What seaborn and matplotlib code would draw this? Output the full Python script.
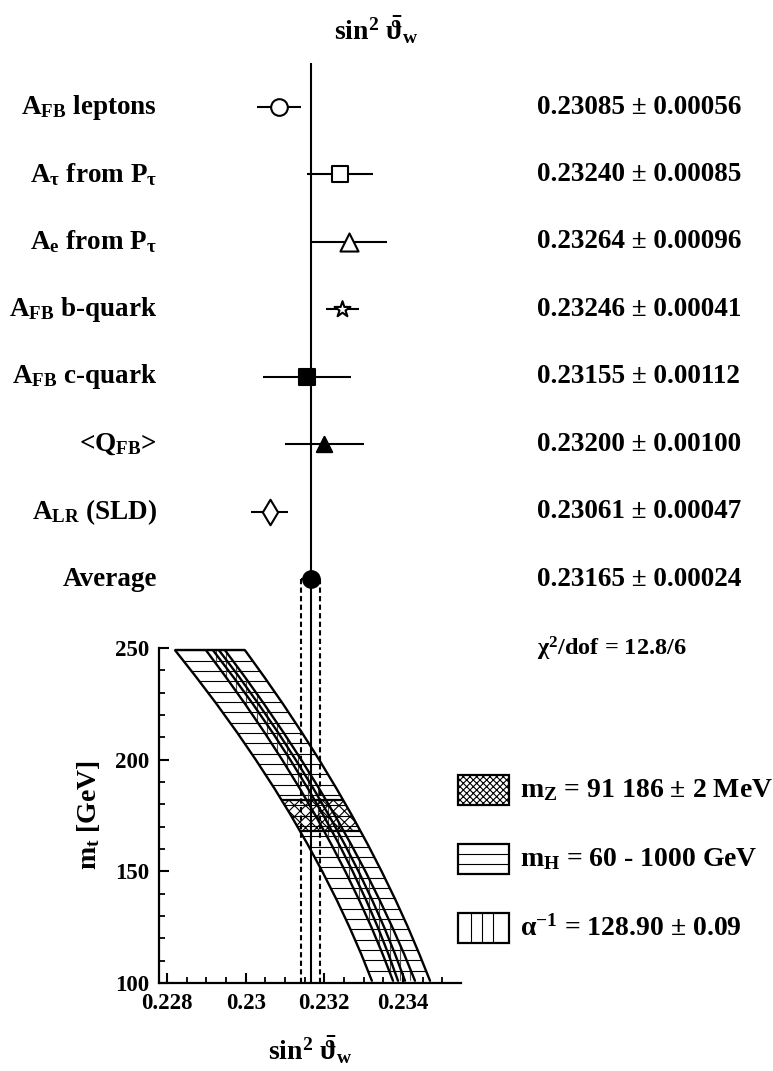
import numpy as np
import pandas as pd
import matplotlib
matplotlib.use("Agg")
import matplotlib.pyplot as plt
import seaborn as sns
from matplotlib.patches import Polygon, Rectangle
from matplotlib.ticker import MultipleLocator, FixedLocator, FixedFormatter
from matplotlib.transforms import blended_transform_factory

# ---------------- data: measurements (top panel) ----------------
labels = [r"$A_{FB}$ leptons", r"$A_\tau$ from $P_\tau$", r"$A_e$ from $P_\tau$",
          r"$A_{FB}$ b-quark", r"$A_{FB}$ c-quark", r"<$Q_{FB}$>",
          r"$A_{LR}$ (SLD)", "Average"]
values = [0.23085, 0.23240, 0.23264, 0.23246, 0.23155, 0.23200, 0.23061, 0.23165]
errors = [0.00056, 0.00085, 0.00096, 0.00041, 0.00112, 0.00100, 0.00047, 0.00024]
markers = ["o", "s", "^", "*", "s", "^", "d", "o"]
filled = [False, False, False, False, True, True, False, True]
marker_sizes = [12, 12, 13, 12, 11, 11, 13, 12]
chi2_text = r"$\chi^2$/dof = 12.8/6"
title_text = r"$sin^2\ \bar{\vartheta}_w$"

# ---------------- data: m_t vs sin^2 bands (bottom panel) ----------------
mt_points = [249, 237, 225, 212, 200, 187, 175, 162, 150, 137, 125, 113, 101]
mh_band_left = [0.228206, 0.228742, 0.229258, 0.229790, 0.230256, 0.230736, 0.231153,
                0.231578, 0.231947, 0.232320, 0.232640, 0.232937, 0.233209]
mh_band_right = [0.229983, 0.230474, 0.230947, 0.231435, 0.231867, 0.232312, 0.232703,
                 0.233105, 0.233456, 0.233815, 0.234125, 0.234414, 0.234687]
alpha_band_left = [0.228992, 0.229497, 0.229983, 0.230485, 0.230926, 0.231379, 0.231776,
                   0.232180, 0.232533, 0.232889, 0.233197, 0.233481, 0.233746]
alpha_band_right = [0.229475, 0.229981, 0.230466, 0.230968, 0.231412, 0.231870, 0.232271,
                    0.232683, 0.233044, 0.233410, 0.233728, 0.234028, 0.234305]
central_line_a = [0.229170, 0.229687, 0.230181, 0.230689, 0.231132, 0.231585, 0.231979,
                  0.232378, 0.232721, 0.233066, 0.233359, 0.233628, 0.233873]
central_line_b = [0.229322, 0.229836, 0.230324, 0.230830, 0.231270, 0.231725, 0.232119,
                  0.232520, 0.232869, 0.233220, 0.233520, 0.233797, 0.234051]
mz_band_mt = [182, 168]
mz_band_left = [0.230911, 0.231384]
mz_band_right = [0.232477, 0.232922]

xtick_values = [0.228, 0.230, 0.232, 0.234]
xtick_labels = ["0.228", "0.23", "0.232", "0.234"]
ytick_values = [100, 150, 200, 250]
xlim = (0.227797, 0.235467)
ylim = (100, 250)
xlabel_text = r"$sin^2\ \bar{\vartheta}_w$"
ylabel_text = r"$m_t$ [GeV]"
legend_labels = [r"$m_Z$ = 91 186 ± 2 MeV", r"$m_H$ = 60 - 1000 GeV",
                 r"$\alpha^{-1}$ = 128.90 ± 0.09"]

# ---------------- style ----------------
sns.set_theme(style="white")
plt.rcParams["font.family"] = ["Liberation Serif", "DejaVu Serif"]
plt.rcParams["font.weight"] = "bold"
plt.rcParams["mathtext.fontset"] = "custom"
plt.rcParams["mathtext.rm"] = "Liberation Serif:bold"
plt.rcParams["mathtext.bf"] = "Liberation Serif:bold"
plt.rcParams["mathtext.it"] = "Liberation Serif:italic:bold"
plt.rcParams["mathtext.default"] = "bf"
plt.rcParams["hatch.linewidth"] = 0.8
plt.rcParams["hatch.color"] = "black"
for key in ("text.color", "axes.labelcolor", "xtick.color", "ytick.color", "axes.edgecolor"):
    plt.rcParams[key] = "black"

W, H = 773, 1071
fig = plt.figure(figsize=(W / 100, H / 100), dpi=100)
fig.patch.set_facecolor("white")

left_px, right_px = 159, 460.7
bot_top_px, bot_bot_px = 648, 983
top_top_px = 63
ax_bot = fig.add_axes([left_px / W, 1 - bot_bot_px / H, (right_px - left_px) / W,
                       (bot_bot_px - bot_top_px) / H])
ax_top = fig.add_axes([left_px / W, 1 - bot_top_px / H, (right_px - left_px) / W,
                       (bot_top_px - top_top_px) / H])
for a in (ax_top, ax_bot):
    a.set_facecolor("none")

avg, avg_err = values[-1], errors[-1]
rows = np.arange(len(values))
dash = (0, (2.5, 1.6))

# ---------------- top panel ----------------
ax_top.axvline(avg, color="black", lw=1.5, zorder=1)
ax_top.vlines([avg - avg_err, avg + avg_err], rows[-1], len(values) + 0.02,
              colors="black", lw=1.5, linestyles=dash, zorder=1)
ax_top.hlines(rows, np.array(values) - np.array(errors), np.array(values) + np.array(errors),
              colors="black", lw=1.5, zorder=2)
for i in range(len(values)):
    sns.scatterplot(x=[values[i]], y=[rows[i]], marker=markers[i], s=marker_sizes[i] ** 2,
                    facecolor="black" if filled[i] else "white", edgecolor="black",
                    linewidth=1.5, ax=ax_top, zorder=3, legend=False)
ax_top.set_xlim(*xlim)
ax_top.set_ylim(len(values) + 0.02, -0.653)
ax_top.axis("off")

tr_lab = blended_transform_factory(fig.transFigure, ax_top.transData)
for i in range(len(values)):
    ax_top.text(157 / W, rows[i], labels[i], transform=tr_lab, ha="right", va="center",
                fontsize=19.5, fontweight="bold", color="black")
    ax_top.text(537 / W, rows[i], f"{values[i]:.5f} ± {errors[i]:.5f}", transform=tr_lab,
                ha="left", va="center", fontsize=19.5, fontweight="bold", color="black")
ax_top.text(537 / W, len(values) + 0.03, chi2_text, transform=tr_lab, ha="left", va="center",
            fontsize=17.5, fontweight="bold", color="black")

# ---------------- bottom panel ----------------
ax_bot.set_xlim(*xlim)
ax_bot.set_ylim(*ylim)
mt = np.array(mt_points, dtype=float)

# m_H band polygon + horizontal hatch
mh_poly = Polygon(np.column_stack([np.r_[mh_band_left, mh_band_right[::-1]],
                                   np.r_[mt, mt[::-1]]]),
                  closed=True, facecolor="none", edgecolor="none")
ax_bot.add_patch(mh_poly)
hatch_mt = np.arange(mt_points[0], mt_points[-1], -4.63)
hl = ax_bot.hlines(hatch_mt, xlim[0], xlim[1], colors="black", lw=0.8, zorder=1)
hl.set_clip_path(mh_poly)

# alpha band polygon + vertical hatch
al_poly = Polygon(np.column_stack([np.r_[alpha_band_left, alpha_band_right[::-1]],
                                   np.r_[mt, mt[::-1]]]),
                  closed=True, facecolor="none", edgecolor="none")
ax_bot.add_patch(al_poly)
vl = ax_bot.vlines(np.arange(0.2282, 0.2350, 0.00026), ylim[0], ylim[1], colors="0.3",
                   lw=0.8, zorder=1)
vl.set_clip_path(al_poly)

# m_Z cross-hatched region
ax_bot.fill_betweenx(mz_band_mt, mz_band_left, mz_band_right, facecolor="none",
                     hatch="xxx", edgecolor="black", linewidth=0, zorder=1)
ax_bot.hlines(mz_band_mt, mz_band_left, mz_band_right, colors="black", lw=1.6, zorder=2)

# band boundary curves
curves = {"mh_left": mh_band_left, "mh_right": mh_band_right,
          "alpha_left": alpha_band_left, "alpha_right": alpha_band_right,
          "central_a": central_line_a, "central_b": central_line_b}
df = pd.concat([pd.DataFrame({"curve": k, "mt": mt_points, "x": v}) for k, v in curves.items()])
sns.lineplot(data=df, x="x", y="mt", units="curve", estimator=None, sort=False,
             color="black", lw=1.7, ax=ax_bot, legend=False, zorder=3)
ax_bot.hlines(mt_points[0], mh_band_left[0], mh_band_right[0], colors="black", lw=1.7, zorder=3)

# average lines
ax_bot.axvline(avg, color="black", lw=1.5, zorder=4)
for xv in (avg - avg_err, avg + avg_err):
    ax_bot.axvline(xv, color="black", lw=1.5, linestyle=dash, zorder=4)

ax_bot.set_xlim(*xlim)
ax_bot.set_ylim(*ylim)
ax_bot.xaxis.set_major_locator(FixedLocator(xtick_values))
ax_bot.xaxis.set_major_formatter(FixedFormatter(xtick_labels))
ax_bot.xaxis.set_minor_locator(MultipleLocator(0.0005))
ax_bot.yaxis.set_major_locator(FixedLocator(ytick_values))
ax_bot.yaxis.set_minor_locator(MultipleLocator(10))
ax_bot.set_xlabel("")
ax_bot.set_ylabel("")
for s in ("top", "right"):
    ax_bot.spines[s].set_visible(False)
for s in ("left", "bottom"):
    ax_bot.spines[s].set_linewidth(1.6)
    ax_bot.spines[s].set_color("black")
ax_bot.tick_params(axis="both", which="major", direction="in", length=7, width=1.5,
                   labelsize=16.5, pad=7, bottom=True, left=True, colors="black")
ax_bot.tick_params(axis="both", which="minor", direction="in", length=4, width=1.3,
                   bottom=True, left=True, colors="black")
for t in ax_bot.get_xticklabels() + ax_bot.get_yticklabels():
    t.set_fontweight("bold")

# ---------------- overlay: titles, axis labels, legend ----------------
ov = fig.add_axes([0, 0, 1, 1])
ov.set_xlim(0, W)
ov.set_ylim(H, 0)
ov.axis("off")
ov.text(376, 30, title_text, ha="center", va="center", fontsize=20, color="black")
ov.text(310, 1050, xlabel_text, ha="center", va="center", fontsize=20, color="black")
ov.text(88, 815, ylabel_text, ha="center", va="center", fontsize=20, rotation=90, color="black")

box_y = [775, 844, 913]
ov.add_patch(Rectangle((458, box_y[0]), 51, 30, facecolor="white", edgecolor="black",
                       lw=1.6, hatch="xxxxx"))
ov.add_patch(Rectangle((458, box_y[1]), 51, 30, facecolor="white", edgecolor="black", lw=1.6))
ov.hlines([box_y[1] + 10, box_y[1] + 20], 458, 509, colors="black", lw=0.8)
ov.add_patch(Rectangle((458, box_y[2]), 51, 30, facecolor="white", edgecolor="black", lw=1.6))
ov.vlines([471, 482, 493], box_y[2], box_y[2] + 30, colors="black", lw=0.8)
for yb, lab in zip(box_y, legend_labels):
    ov.text(520, yb + 15, lab, ha="left", va="center", fontsize=20, color="black")

fig.savefig("out.png", dpi=100, facecolor="white")
